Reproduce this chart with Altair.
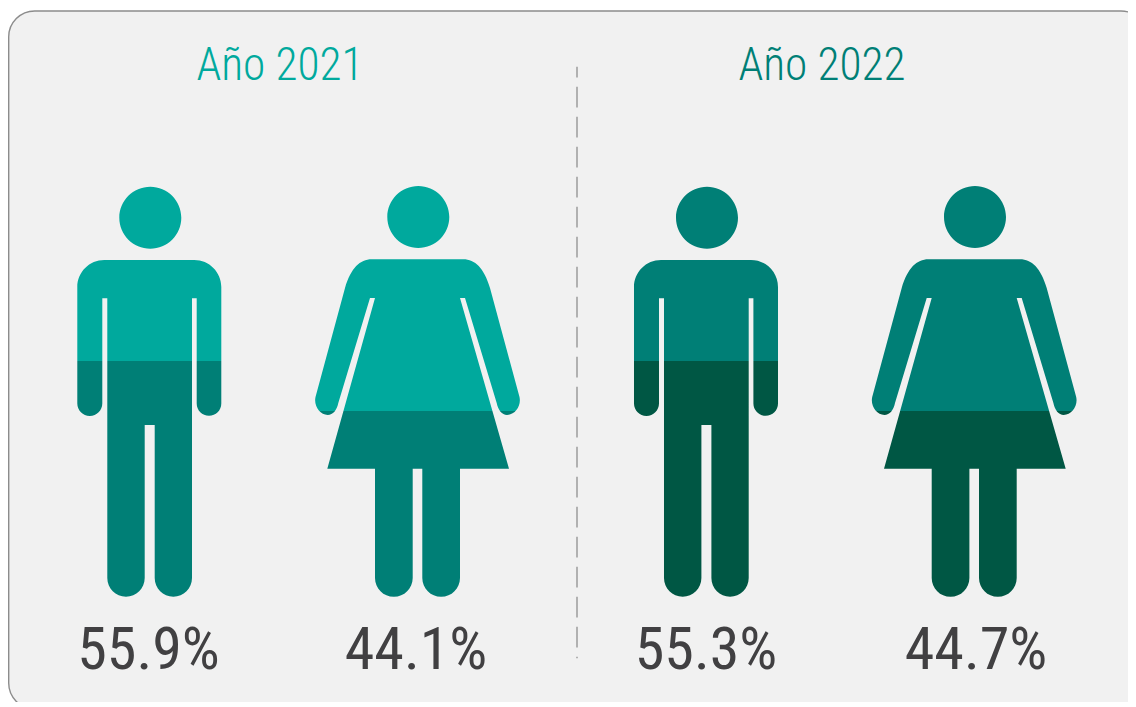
import altair as alt
import pandas as pd

# ---- values ----
years = ["Año 2021", "Año 2022"]
groups = ["Hombre 2021", "Mujer 2021", "Hombre 2022", "Mujer 2022"]
kinds = ["man", "woman", "man", "woman"]
shares = ["55.9%", "44.1%", "55.3%", "44.7%"]

# ---- layout (page pixels) ----
W, H = 1120, 694
figure_x = [149.4, 418.2, 706.1, 974.9]
figure_y = {"man": 391.7, "woman": 391.3}
share_x = [148.5, 416, 706, 976]
share_y = 669
year_x = [280, 822]
year_y = 80
year_colors = ["#00a99d", "#007f76"]
top_colors = ["#00a99d", "#00a99d", "#007f76", "#007f76"]
low_colors = ["#007f76", "#007f76", "#005744", "#005744"]
split = {"man": 0.425, "woman": 0.548}

MAN = ("M-45.1-131.7L44.9-131.7A27 27 0 0 1 71.9-104.7L71.9 11.8A12.3 12.3 0 0 1 47.3 11.8"
       "L47.3-93.4L42.6-93.4L42.6 186.3A18.65 18.65 0 0 1 5.3 186.3L5.3 33.3L-4.7 33.3L-4.7 186.3"
       "A18.7 18.7 0 0 1-42.1 186.3L-42.1-93.4L-47.1-93.4L-47.1 11.8A12.5 12.5 0 0 1-72.1 11.8"
       "L-72.1-104.7A27 27 0 0 1-45.1-131.7Z"
       "M-30.1-174A31 31 0 1 1 31.9-174A31 31 0 1 1-30.1-174Z")

WOMAN = ("M-46.5-132L45.1-132C56.8-132 65.8-123.3 71.8-103.3L101.3 5.7C103.3 14.7 96.8 23.7 88.8 23.7"
         "C83.8 23.7 79.8 18.7 78.5 11.7L46.8-93.3L41.8-93.3L90.8 77.4L41.8 77.4L41.8 186.7"
         "A18.85 18.85 0 0 1 4.1 186.7L4.1 77.4L-5.5 77.4L-5.5 186.7A18.85 18.85 0 0 1-43.2 186.7"
         "L-43.2 77.4L-90.9 77.4L-43.2-93.3L-48.2-93.3L-79.9 11.7C-81.2 18.7-85.2 23.7-90.5 23.7"
         "C-98.2 23.7-104.7 14.7-102.7 5.7L-73.2-103.3C-67.2-123.3-58.2-132-46.5-132Z"
         "M-30.9-174.4A31 31 0 1 1 31.1-174.4A31 31 0 1 1-30.9-174.4Z")
SHAPES = {"man": MAN, "woman": WOMAN}

x_scale = alt.Scale(domain=[8, 8 + W], range=[0, W], nice=False, zero=False)
y_scale = alt.Scale(domain=[8 + H, 8], range=[H, 0], nice=False, zero=False)
X = alt.X("x:Q", scale=x_scale, axis=None)
Y = alt.Y("y:Q", scale=y_scale, axis=None)

panel = alt.Chart(pd.DataFrame([{"x": 8.7, "x2": 1147, "y": 11, "y2": 709}])).mark_rect(
    fill="#f1f1f1", stroke="#8c8c8c", strokeWidth=1.4, cornerRadius=26, clip=True
).encode(X, alt.X2("x2:Q"), Y, alt.Y2("y2:Q"))

divider = alt.Chart(pd.DataFrame([{"x": 577, "y": 66.7, "y2": 658.3}])).mark_rule(
    color="#a6a6a6", strokeWidth=1.7, strokeDash=[20.7, 9.3], strokeDashOffset=10
).encode(X, Y, alt.Y2("y2:Q"))

layers = [panel, divider]

for group, kind, fx, top, low in zip(groups, kinds, figure_x, top_colors, low_colors):
    s = split[kind]
    layers.append(
        alt.Chart(pd.DataFrame([{"group": group, "x": fx, "y": figure_y[kind]}])).mark_point(
            shape=SHAPES[kind], size=4, filled=True, opacity=1, strokeWidth=0,
            fill=alt.LinearGradient(
                gradient="linear", x1=0, y1=0, x2=0, y2=1,
                stops=[
                    alt.GradientStop(offset=0, color=top),
                    alt.GradientStop(offset=s, color=top),
                    alt.GradientStop(offset=s, color=low),
                    alt.GradientStop(offset=1, color=low),
                ],
            ),
        ).encode(X, Y)
    )

share_df = pd.DataFrame({"x": share_x, "y": [share_y] * 4, "t": shares})
layers.append(
    alt.Chart(share_df).mark_text(
        font="Roboto Condensed", fontSize=60, align="center", baseline="alphabetic",
        color="#414042",
    ).encode(X, Y, text="t:N")
)

for label, x, c in zip(years, year_x, year_colors):
    layers.append(
        alt.Chart(pd.DataFrame([{"x": x, "y": year_y, "t": label}])).mark_text(
            font="Roboto Condensed Light", fontSize=45.3, align="center", baseline="alphabetic",
            color=c,
        ).encode(X, Y, text="t:N")
    )

chart = alt.layer(*layers).properties(width=W, height=H, padding=0).configure_view(stroke=None)
chart.save("out.html", embed_options={"renderer": "svg", "actions": False})
